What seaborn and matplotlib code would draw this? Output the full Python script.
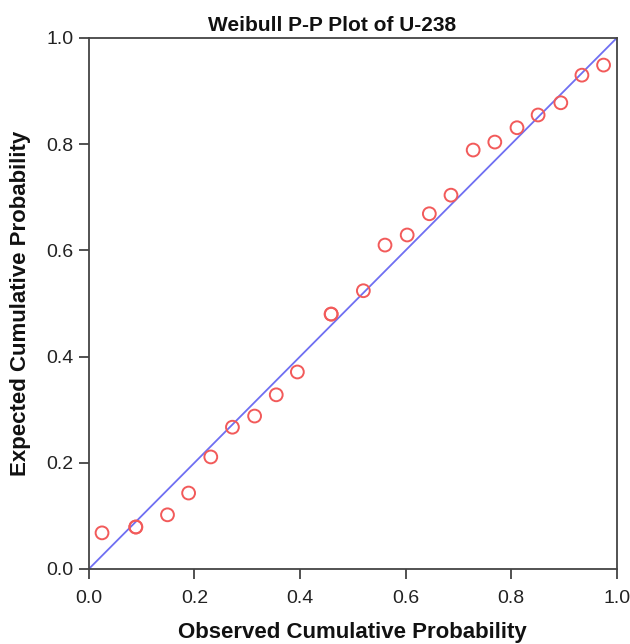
import matplotlib
matplotlib.use("Agg")
import matplotlib.pyplot as plt
import seaborn as sns
import pandas as pd

observed = [0.025, 0.089, 0.089, 0.149, 0.189, 0.231, 0.272, 0.314, 0.355, 0.395,
            0.459, 0.459, 0.520, 0.561, 0.603, 0.645, 0.686, 0.728, 0.769, 0.811,
            0.851, 0.894, 0.934, 0.975]
expected = [0.068, 0.079, 0.079, 0.102, 0.143, 0.211, 0.267, 0.288, 0.328, 0.371,
            0.480, 0.480, 0.524, 0.610, 0.629, 0.669, 0.704, 0.789, 0.804, 0.831,
            0.855, 0.878, 0.930, 0.949]
ref_line = [0.0, 1.0]
ticks = [0.0, 0.2, 0.4, 0.6, 0.8, 1.0]
tick_labels = ["0.0", "0.2", "0.4", "0.6", "0.8", "1.0"]

sns.set_style("white")
plt.rcParams['font.family'] = ['Liberation Sans', 'DejaVu Sans']

df = pd.DataFrame({"obs": observed, "exp": expected})

fig = plt.figure(figsize=(6.3, 6.44), dpi=100)
ax = fig.add_axes([0.141, 0.1165, 0.838, 0.8245])

sns.lineplot(x=ref_line, y=ref_line, ax=ax, color="#6f6ff2", linewidth=1.3)
sns.scatterplot(data=df, x="obs", y="exp", ax=ax, marker="o", s=85,
                facecolors="none", edgecolor="#f25a5a", linewidth=1.4, zorder=3)

ax.set_xlim(0, 1)
ax.set_ylim(0, 1)
ax.set_xticks(ticks)
ax.set_xticklabels(tick_labels)
ax.set_yticks(ticks)
ax.set_yticklabels(tick_labels)
ax.tick_params(axis="both", direction="out", length=7, width=1.1, labelsize=14,
               colors="#222222", bottom=True, left=True)
ax.tick_params(axis="x", pad=8)
ax.tick_params(axis="y", pad=4)
for s in ax.spines.values():
    s.set_color("#444444")
    s.set_linewidth(1.3)

ax.set_title("Weibull P-P Plot of U-238", fontsize=15, fontweight="bold", pad=5,
             color="#111111", x=0.46)
ax.set_xlabel("Observed Cumulative Probability", fontsize=16, fontweight="bold", labelpad=11, color="#111111")
ax.set_ylabel("Expected Cumulative Probability", fontsize=16, fontweight="bold", labelpad=11, color="#111111")

fig.savefig("out.png", dpi=100)
